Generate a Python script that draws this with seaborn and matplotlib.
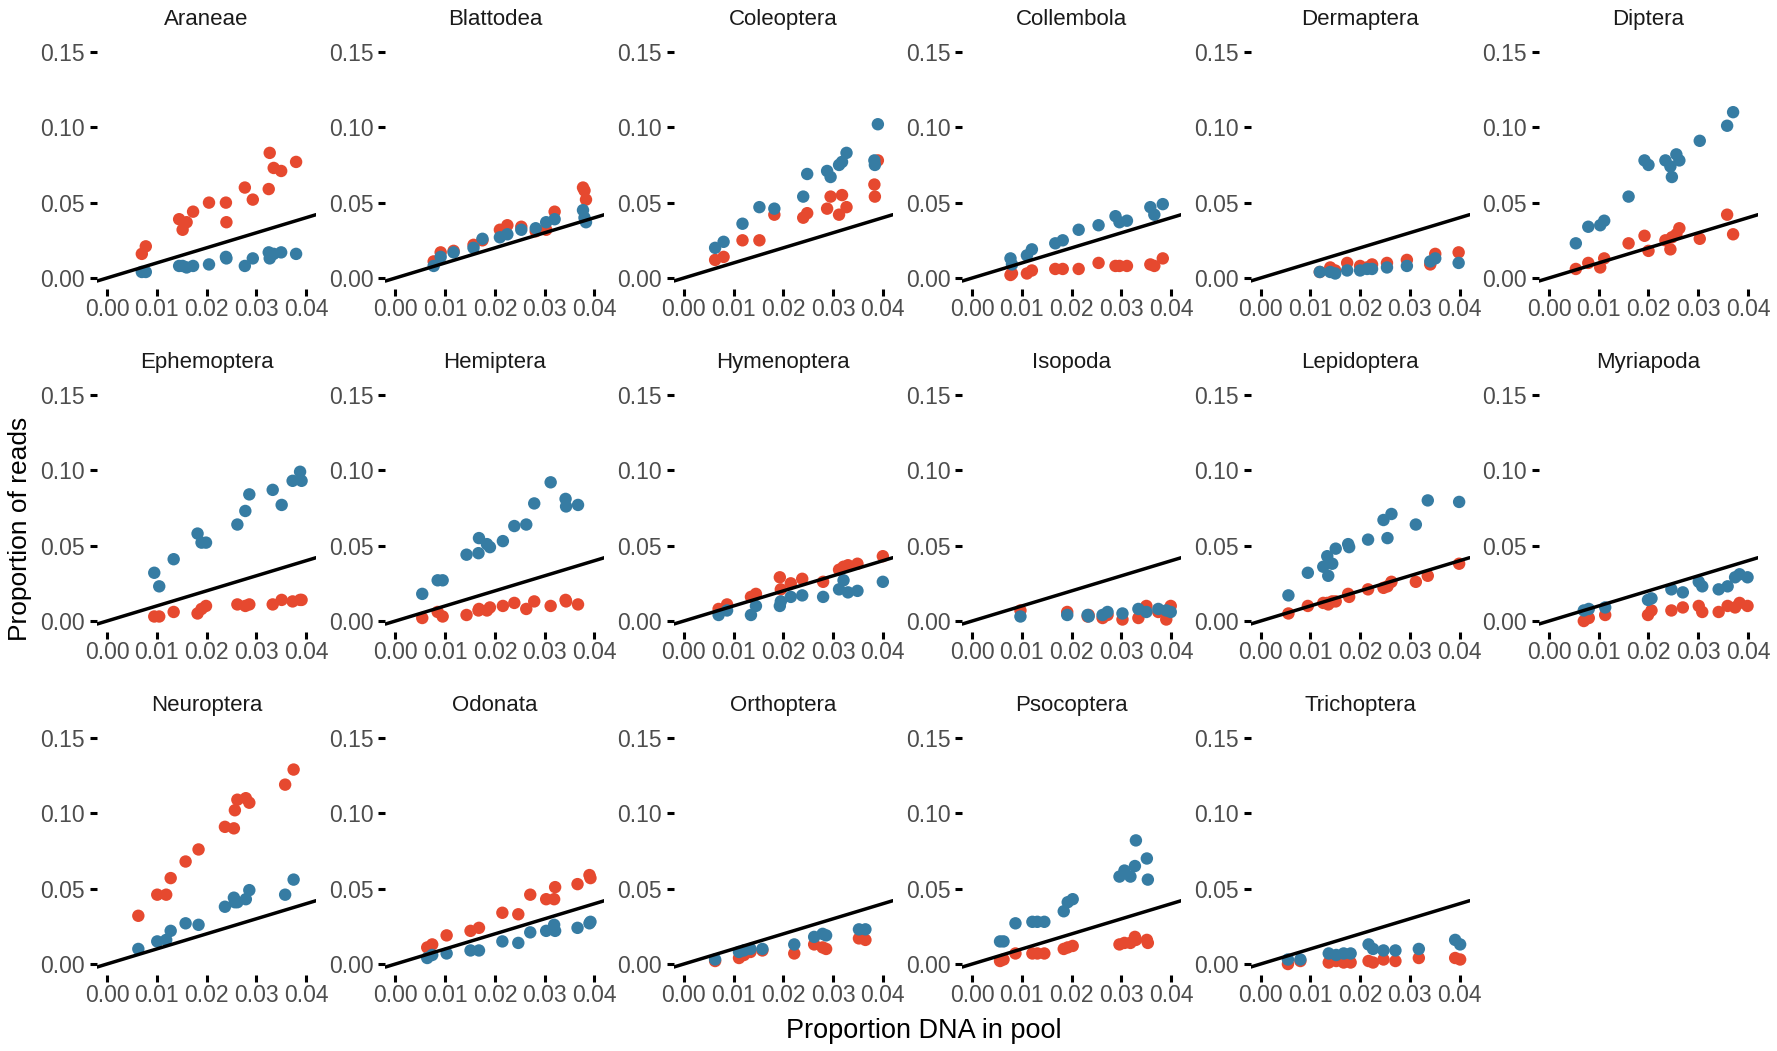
import matplotlib
matplotlib.use("Agg")
import matplotlib.pyplot as plt
import numpy as np
import pandas as pd
import seaborn as sns

# ---------------- data ----------------
orders = ["Araneae", "Blattodea", "Coleoptera", "Collembola", "Dermaptera", "Diptera",
          "Ephemoptera", "Hemiptera", "Hymenoptera", "Isopoda", "Lepidoptera", "Myriapoda",
          "Neuroptera", "Odonata", "Orthoptera", "Psocoptera", "Trichoptera"]

x_araneae = [0.0070, 0.0078, 0.0145, 0.0152, 0.0160, 0.0173, 0.0205, 0.0239, 0.0240, 0.0277, 0.0293, 0.0325, 0.0327, 0.0335, 0.0350, 0.0380]
red_araneae = [0.016, 0.021, 0.039, 0.032, 0.037, 0.044, 0.050, 0.050, 0.037, 0.060, 0.052, 0.059, 0.083, 0.073, 0.071, 0.077]
blue_araneae = [0.004, 0.004, 0.008, 0.008, 0.007, 0.008, 0.009, 0.014, 0.013, 0.008, 0.013, 0.017, 0.013, 0.016, 0.017, 0.016]

x_blattodea = [0.0077, 0.0091, 0.0117, 0.0157, 0.0175, 0.0210, 0.0225, 0.0253, 0.0282, 0.0303, 0.0320, 0.0377, 0.0380, 0.0383]
red_blattodea = [0.011, 0.017, 0.018, 0.022, 0.025, 0.032, 0.035, 0.034, 0.031, 0.032, 0.044, 0.060, 0.058, 0.052]
blue_blattodea = [0.008, 0.014, 0.017, 0.020, 0.026, 0.027, 0.029, 0.032, 0.033, 0.037, 0.039, 0.045, 0.040, 0.037]

x_coleoptera = [0.0063, 0.0080, 0.0118, 0.0152, 0.0182, 0.0240, 0.0248, 0.0288, 0.0295, 0.0312, 0.0318, 0.0327, 0.0383, 0.0384, 0.0390]
red_coleoptera = [0.012, 0.014, 0.025, 0.025, 0.042, 0.040, 0.043, 0.046, 0.054, 0.042, 0.055, 0.047, 0.062, 0.054, 0.078]
blue_coleoptera = [0.020, 0.024, 0.036, 0.047, 0.046, 0.054, 0.069, 0.071, 0.067, 0.075, 0.077, 0.083, 0.078, 0.075, 0.102]

x_collembola = [0.0077, 0.0080, 0.0110, 0.0120, 0.0167, 0.0182, 0.0214, 0.0254, 0.0288, 0.0296, 0.0311, 0.0358, 0.0366, 0.0383]
red_collembola = [0.002, 0.003, 0.003, 0.005, 0.006, 0.006, 0.006, 0.010, 0.008, 0.008, 0.008, 0.009, 0.008, 0.013]
blue_collembola = [0.013, 0.009, 0.015, 0.019, 0.023, 0.025, 0.032, 0.035, 0.041, 0.037, 0.038, 0.047, 0.042, 0.049]

x_dermaptera = [0.0119, 0.0140, 0.0150, 0.0174, 0.0200, 0.0214, 0.0224, 0.0254, 0.0294, 0.0341, 0.0351, 0.0398]
red_dermaptera = [0.004, 0.007, 0.005, 0.010, 0.008, 0.007, 0.009, 0.010, 0.012, 0.009, 0.016, 0.017]
blue_dermaptera = [0.004, 0.004, 0.003, 0.005, 0.005, 0.006, 0.006, 0.007, 0.008, 0.011, 0.013, 0.010]

x_diptera = [0.0054, 0.0079, 0.0103, 0.0111, 0.0160, 0.0192, 0.0200, 0.0234, 0.0244, 0.0247, 0.0256, 0.0262, 0.0303, 0.0358, 0.0370]
red_diptera = [0.006, 0.010, 0.007, 0.013, 0.023, 0.028, 0.018, 0.025, 0.019, 0.027, 0.029, 0.033, 0.026, 0.042, 0.029]
blue_diptera = [0.023, 0.034, 0.035, 0.038, 0.054, 0.078, 0.075, 0.078, 0.074, 0.067, 0.082, 0.078, 0.091, 0.101, 0.110]

x_ephemoptera = [0.0095, 0.0105, 0.0134, 0.0182, 0.0190, 0.0199, 0.0262, 0.0278, 0.0286, 0.0333, 0.0351, 0.0373, 0.0388, 0.0391]
red_ephemoptera = [0.003, 0.003, 0.006, 0.005, 0.008, 0.010, 0.011, 0.010, 0.011, 0.011, 0.014, 0.013, 0.014, 0.014]
blue_ephemoptera = [0.032, 0.023, 0.041, 0.058, 0.052, 0.052, 0.064, 0.073, 0.084, 0.087, 0.077, 0.093, 0.099, 0.093]

x_hemiptera = [0.0054, 0.0085, 0.0095, 0.0143, 0.0167, 0.0168, 0.0184, 0.0190, 0.0216, 0.0239, 0.0263, 0.0279, 0.0312, 0.0342, 0.0343, 0.0367]
red_hemiptera = [0.002, 0.006, 0.003, 0.004, 0.007, 0.008, 0.007, 0.009, 0.010, 0.012, 0.008, 0.013, 0.010, 0.014, 0.013, 0.011]
blue_hemiptera = [0.018, 0.027, 0.027, 0.044, 0.045, 0.055, 0.051, 0.049, 0.053, 0.063, 0.064, 0.078, 0.092, 0.081, 0.076, 0.077]

x_hymenoptera = [0.0070, 0.0087, 0.0135, 0.0145, 0.0193, 0.0195, 0.0215, 0.0238, 0.0280, 0.0312, 0.0321, 0.0330, 0.0349, 0.0400]
red_hymenoptera = [0.008, 0.011, 0.016, 0.018, 0.029, 0.021, 0.025, 0.028, 0.026, 0.034, 0.036, 0.037, 0.038, 0.043]
blue_hymenoptera = [0.004, 0.007, 0.004, 0.010, 0.010, 0.013, 0.016, 0.017, 0.016, 0.021, 0.027, 0.019, 0.020, 0.026]

x_isopoda = [0.0097, 0.0191, 0.0232, 0.0234, 0.0262, 0.0272, 0.0302, 0.0334, 0.0350, 0.0374, 0.0390, 0.0399]
red_isopoda = [0.007, 0.006, 0.003, 0.004, 0.002, 0.004, 0.001, 0.002, 0.010, 0.006, 0.001, 0.010]
blue_isopoda = [0.003, 0.004, 0.004, 0.003, 0.004, 0.006, 0.005, 0.008, 0.006, 0.008, 0.007, 0.006]

x_lepidoptera = [0.0056, 0.0095, 0.0126, 0.0134, 0.0136, 0.0144, 0.0151, 0.0176, 0.0178, 0.0216, 0.0247, 0.0255, 0.0263, 0.0312, 0.0336, 0.0399]
red_lepidoptera = [0.005, 0.010, 0.012, 0.012, 0.011, 0.013, 0.013, 0.018, 0.016, 0.021, 0.022, 0.023, 0.026, 0.026, 0.030, 0.038]
blue_lepidoptera = [0.017, 0.032, 0.036, 0.043, 0.030, 0.038, 0.048, 0.051, 0.049, 0.054, 0.067, 0.055, 0.071, 0.064, 0.080, 0.079]

x_myriapoda = [0.0070, 0.0080, 0.0113, 0.0199, 0.0206, 0.0246, 0.0269, 0.0301, 0.0308, 0.0341, 0.0359, 0.0374, 0.0383, 0.0399]
red_myriapoda = [0.000, 0.002, 0.004, 0.004, 0.007, 0.007, 0.009, 0.010, 0.006, 0.006, 0.010, 0.009, 0.012, 0.010]
blue_myriapoda = [0.007, 0.008, 0.009, 0.014, 0.015, 0.021, 0.019, 0.026, 0.023, 0.021, 0.023, 0.029, 0.031, 0.029]

x_neuroptera = [0.0063, 0.0101, 0.0119, 0.0128, 0.0158, 0.0184, 0.0237, 0.0255, 0.0257, 0.0262, 0.0279, 0.0286, 0.0358, 0.0375]
red_neuroptera = [0.032, 0.046, 0.046, 0.057, 0.068, 0.076, 0.091, 0.090, 0.102, 0.109, 0.110, 0.107, 0.119, 0.129]
blue_neuroptera = [0.010, 0.015, 0.016, 0.022, 0.027, 0.026, 0.038, 0.044, 0.041, 0.041, 0.043, 0.049, 0.046, 0.056]

x_odonata = [0.0064, 0.0074, 0.0103, 0.0151, 0.0168, 0.0215, 0.0247, 0.0271, 0.0303, 0.0319, 0.0321, 0.0366, 0.0390, 0.0392]
red_odonata = [0.011, 0.013, 0.019, 0.022, 0.024, 0.034, 0.033, 0.046, 0.043, 0.043, 0.051, 0.053, 0.059, 0.057]
blue_odonata = [0.004, 0.006, 0.007, 0.009, 0.009, 0.015, 0.014, 0.021, 0.022, 0.026, 0.022, 0.024, 0.027, 0.028]

x_orthoptera = [0.0063, 0.0111, 0.0121, 0.0134, 0.0158, 0.0222, 0.0262, 0.0279, 0.0286, 0.0352, 0.0365]
red_orthoptera = [0.002, 0.004, 0.006, 0.008, 0.009, 0.007, 0.013, 0.011, 0.010, 0.017, 0.016]
blue_orthoptera = [0.003, 0.008, 0.009, 0.010, 0.010, 0.013, 0.018, 0.020, 0.019, 0.023, 0.023]

x_psocoptera = [0.0056, 0.0063, 0.0087, 0.0121, 0.0131, 0.0145, 0.0184, 0.0192, 0.0202, 0.0296, 0.0306, 0.0318, 0.0327, 0.0329, 0.0351, 0.0353]
red_psocoptera = [0.002, 0.003, 0.007, 0.007, 0.007, 0.007, 0.010, 0.011, 0.012, 0.013, 0.014, 0.014, 0.018, 0.016, 0.016, 0.014]
blue_psocoptera = [0.015, 0.015, 0.027, 0.028, 0.028, 0.028, 0.035, 0.041, 0.043, 0.058, 0.062, 0.058, 0.065, 0.082, 0.070, 0.056]

x_trichoptera = [0.0055, 0.0080, 0.0137, 0.0152, 0.0167, 0.0181, 0.0217, 0.0226, 0.0247, 0.0271, 0.0318, 0.0391, 0.0401]
red_trichoptera = [0.000, 0.002, 0.001, 0.002, 0.001, 0.001, 0.002, 0.001, 0.003, 0.002, 0.004, 0.004, 0.003]
blue_trichoptera = [0.003, 0.003, 0.007, 0.006, 0.007, 0.007, 0.013, 0.010, 0.009, 0.009, 0.010, 0.016, 0.013]

x_ticks = [0.00, 0.01, 0.02, 0.03, 0.04]
y_ticks = [0.00, 0.05, 0.10, 0.15]
x_label = "Proportion DNA in pool"
y_label = "Proportion of reads"

panels = {
    "Araneae": (x_araneae, red_araneae, blue_araneae),
    "Blattodea": (x_blattodea, red_blattodea, blue_blattodea),
    "Coleoptera": (x_coleoptera, red_coleoptera, blue_coleoptera),
    "Collembola": (x_collembola, red_collembola, blue_collembola),
    "Dermaptera": (x_dermaptera, red_dermaptera, blue_dermaptera),
    "Diptera": (x_diptera, red_diptera, blue_diptera),
    "Ephemoptera": (x_ephemoptera, red_ephemoptera, blue_ephemoptera),
    "Hemiptera": (x_hemiptera, red_hemiptera, blue_hemiptera),
    "Hymenoptera": (x_hymenoptera, red_hymenoptera, blue_hymenoptera),
    "Isopoda": (x_isopoda, red_isopoda, blue_isopoda),
    "Lepidoptera": (x_lepidoptera, red_lepidoptera, blue_lepidoptera),
    "Myriapoda": (x_myriapoda, red_myriapoda, blue_myriapoda),
    "Neuroptera": (x_neuroptera, red_neuroptera, blue_neuroptera),
    "Odonata": (x_odonata, red_odonata, blue_odonata),
    "Orthoptera": (x_orthoptera, red_orthoptera, blue_orthoptera),
    "Psocoptera": (x_psocoptera, red_psocoptera, blue_psocoptera),
    "Trichoptera": (x_trichoptera, red_trichoptera, blue_trichoptera),
}

rows_a, rows_b = [], []
for name, (xs, ra, rb) in panels.items():
    for x, ya, yb in zip(xs, ra, rb):
        rows_a.append((name, x, "A", ya))
        rows_b.append((name, x, "B", yb))
df = pd.DataFrame(rows_a + rows_b, columns=["order", "dna", "set", "reads"])

RED = "#E6492F"
BLUE = "#367CA3"

# ---------------- style ----------------
sns.set_style("white")
plt.rcParams["font.family"] = ["Liberation Sans", "DejaVu Sans"]

g = sns.FacetGrid(df, col="order", col_order=orders, col_wrap=6,
                  sharex=False, sharey=False, height=2.5, aspect=1, despine=False)
g.map_dataframe(sns.scatterplot, x="dna", y="reads", hue="set",
                palette={"A": RED, "B": BLUE}, s=80, linewidth=0, alpha=1, legend=False)

for ax, name in zip(g.axes.flat, orders):
    ax.axline((0, 0), slope=1, color="black", lw=2.5)
    ax.set_xlim(-0.002, 0.042)
    ax.set_ylim(-0.0075, 0.1575)
    ax.set_xticks(x_ticks)
    ax.set_yticks(y_ticks)
    ax.set_xticklabels([f"{v:.2f}" for v in x_ticks])
    ax.set_yticklabels([f"{v:.2f}" for v in y_ticks])
    for sp in ax.spines.values():
        sp.set_visible(False)
    ax.tick_params(axis="both", which="major", direction="out", length=5, width=2.2,
                   color="black", labelcolor="#4D4D4D", labelsize=16.5,
                   bottom=True, left=True, labelbottom=True, labelleft=True)
    ax.tick_params(axis="x", pad=1.5)
    ax.tick_params(axis="y", pad=3.5)
    ax.set_xlabel("")
    ax.set_ylabel("")
    ax.set_title(name, fontsize=16, color="#1A1A1A", pad=11)
    ax.set_facecolor("white")

fig = g.figure
fig.set_size_inches(17.77, 10.51)
fig.subplots_adjust(left=0.0546, right=0.9893, top=0.9614, bottom=0.0720,
                    wspace=0.317, hspace=0.379)
fig.text(0.520, 0.019, x_label, ha="center", va="center", fontsize=19.5, color="black")
fig.text(0.0115, 0.497, y_label, ha="center", va="center", rotation=90,
         fontsize=19, color="black")

fig.savefig("out.png", dpi=100, facecolor="white")
